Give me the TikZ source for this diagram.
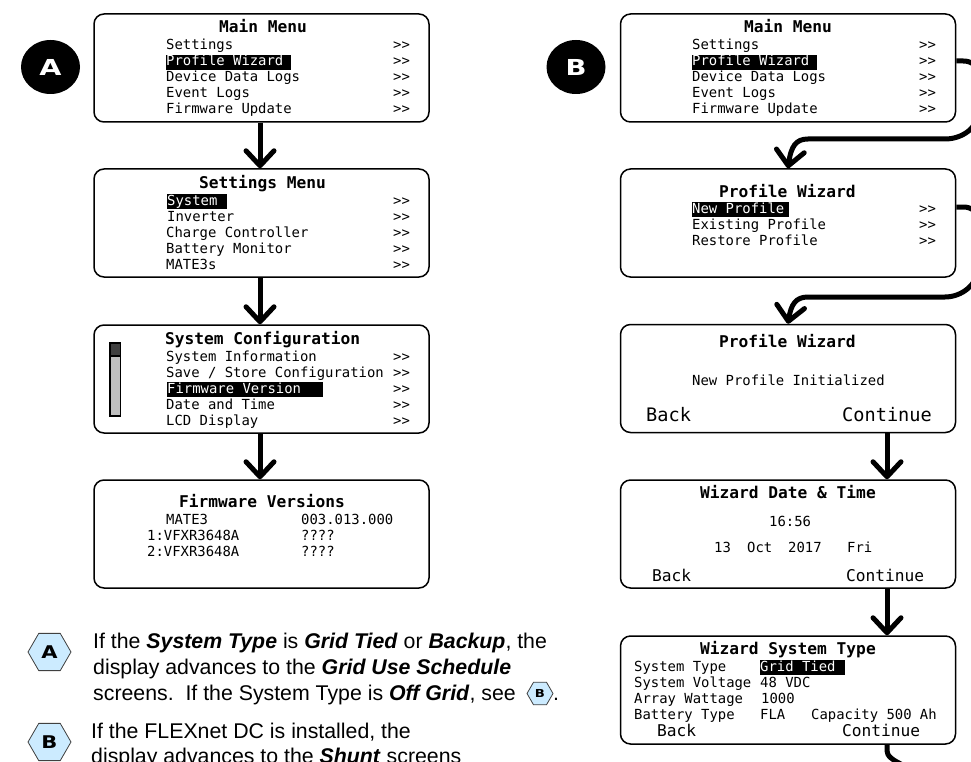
\documentclass[tikz,border=0pt]{standalone}
\usepackage{fontspec}
\usetikzlibrary{arrows.meta,shapes.geometric}
\setmainfont{Liberation Sans}
\newfontfamily\lcdfamily{DejaVu Sans Mono}
\newfontfamily\badgefamily{DejaVu Sans}[BoldFont={DejaVu Sans Bold}]
\newcommand{\lcdrow}{\lcdfamily\fontsize{13.9}{16}\selectfont}
\newcommand{\lcdtitle}{\lcdfamily\bfseries\fontsize{16.2}{18}\selectfont}
\newcommand{\lcdbutton}{\lcdfamily\fontsize{16.2}{18}\selectfont}
\newcommand{\lcdbig}{\lcdfamily\fontsize{18.6}{20}\selectfont}
\newcommand{\marked}[2]{\makebox[#1pt][l]{#2}}
\definecolor{hexblue}{HTML}{CCEBFF}
\tikzset{
  screen/.style={draw,line width=1.5pt,rounded corners=10pt,minimum width=335pt,minimum height=108pt},
  row/.style={anchor=base west,inner sep=0pt,font=\lcdrow},
  rowmark/.style={row,fill=black,text=white,text depth=4pt,text height=11pt},
  title/.style={anchor=base west,inner sep=0pt,font=\lcdtitle},
  button/.style={anchor=base west,inner sep=0pt,font=\lcdbutton},
  bigbutton/.style={anchor=base west,inner sep=0pt,font=\lcdbig},
  flow/.style={line width=5pt,-{Straight Barb[length=15pt,width=28pt,round]}},
  disc/.style={ellipse,fill=black,text=white,minimum width=59pt,minimum height=54pt,inner sep=0pt,
    font=\badgefamily\bfseries\fontsize{22}{22}\selectfont},
  hexbadge/.style={regular polygon,regular polygon sides=6,draw=black!75,line width=0.8pt,fill=hexblue,
    minimum size=43pt,inner sep=0pt,font=\badgefamily\bfseries\fontsize{17.5}{18}\selectfont},
  hexsmall/.style={hexbadge,minimum size=26pt,font=\badgefamily\bfseries\fontsize{11}{11}\selectfont},
  note/.style={anchor=base west,inner sep=0pt,font=\fontsize{21.3}{26}\selectfont},
}
\begin{document}
\begin{tikzpicture}[x=1pt,y=-1pt]
    \clip (0,0) rectangle (971,762);

    % column A
    \node[screen] (mainA) at (261.5,68) {};
    \node[screen] (settingsA) at (261.5,223) {};
    \node[screen] (configA) at (261.5,379) {};
    \node[screen] (versionA) at (261.5,534) {};
    \node[disc] (discA) at (50.5,67) {\scalebox{1.3}[1]{A}};

    \node[title] (mainAtitle) at (219,33) {Main Menu};
    \node[row] (mainA1) at (166,50) {Settings};
    \node[rowmark] (mainA2) at (166,66) {\marked{125}{Profile Wizard}};
    \node[row] (mainA3) at (166,82) {Device Data Logs};
    \node[row] (mainA4) at (166,98) {Event Logs};
    \node[row] (mainA5) at (166,114) {Firmware Update};
    \foreach \y [count=\i] in {50,66,82,98,114}
        \node[row] (mainAgo\i) at (393,\y) {>>};

    \node[title] (settingsAtitle) at (199,189) {Settings Menu};
    \node[rowmark] (settingsA1) at (167,205) {\marked{60}{System}};
    \node[row] (settingsA2) at (167,221) {Inverter};
    \node[row] (settingsA3) at (166,237) {Charge Controller};
    \node[row] (settingsA4) at (166,253) {Battery Monitor};
    \node[row] (settingsA5) at (166,269) {MATE3s};
    \foreach \y [count=\i] in {205,221,237,253,269}
        \node[row] (settingsAgo\i) at (393,\y) {>>};

    \node[title] (configAtitle) at (165,344) {System Configuration};
    \node[row] (configA1) at (166,361) {System Information};
    \node[row] (configA2) at (166,377) {Save / Store Configuration};
    \node[rowmark] (configA3) at (167,393) {\marked{156}{Firmware Version}};
    \node[row] (configA4) at (166,409) {Date and Time};
    \node[row] (configA5) at (166,425) {LCD Display};
    \foreach \y [count=\i] in {361,377,393,409,425}
        \node[row] (configAgo\i) at (393,\y) {>>};
    % scroll bar
    \draw[line width=1.2pt,fill=black!25] (110,343) rectangle (120.5,416);
    \draw[line width=1.2pt,fill=black!75] (110,343) rectangle (120.5,356);

    \node[title] (versionAtitle) at (179,507) {Firmware Versions};
    \node[row] (versionA1) at (166,524) {MATE3};
    \node[row] (versionA2) at (147,540) {1:VFXR3648A};
    \node[row] (versionA3) at (147,556) {2:VFXR3648A};
    \node[row] (versionAval1) at (301,524) {003.013.000};
    \node[row] (versionAval2) at (301,540) {????};
    \node[row] (versionAval3) at (301,556) {????};

    \draw[flow] ([xshift=-1.5pt]mainA.south) -- ([xshift=-1.5pt]settingsA.north);
    \draw[flow] ([xshift=-1.5pt]settingsA.south) -- ([xshift=-1.5pt]configA.north);
    \draw[flow] ([xshift=-1.5pt]configA.south) -- ([xshift=-1.5pt]versionA.north);

    % notes
    \node[hexbadge] (hexA) at (49.5,652) {\scalebox{1.2}[1]{A}};
    \node[hexbadge] (hexB) at (49.5,742) {\scalebox{1.2}[1]{B}};
    \node[note] (noteA1) at (93,648) {If the \textbf{\textit{System Type}} is \textbf{\textit{Grid Tied}} or \textbf{\textit{Backup}}, the};
    \node[note] (noteA2) at (93,674) {display advances to the \textbf{\textit{Grid Use Schedule}}};
    \node[note] (noteA3) at (93,700) {screens.\ \ If the System Type is \textbf{\textit{Off Grid}}, see};
    \node[hexsmall] (hexinline) at (540,693.5) {\scalebox{1.2}[1]{B}};
    \node[note] (noteA4) at (553,700) {.};
    \node[note] (noteB1) at (91,738) {If the FLEXnet DC is installed, the};
    \node[note] (noteB2) at (91,763) {display advances to the \textbf{\textit{Shunt}} screens};

    % column B
    \node[screen] (mainB) at (788,68) {};
    \node[screen] (wizardB) at (788,223) {};
    \node[screen] (initB) at (788,378.5) {};
    \node[screen] (dateB) at (788,534) {};
    \node[screen] (typeB) at (788,690) {};
    \node[disc] (discB) at (576,67) {\scalebox{1.25}[1]{B}};

    \node[title] (mainBtitle) at (744,33) {Main Menu};
    \node[row] (mainB1) at (692,50) {Settings};
    \node[rowmark] (mainB2) at (692,66) {\marked{125}{Profile Wizard}};
    \node[row] (mainB3) at (692,82) {Device Data Logs};
    \node[row] (mainB4) at (692,98) {Event Logs};
    \node[row] (mainB5) at (692,114) {Firmware Update};
    \foreach \y [count=\i] in {50,66,82,98,114}
        \node[row] (mainBgo\i) at (919,\y) {>>};

    \node[title] (wizardBtitle) at (719,197) {Profile Wizard};
    \node[rowmark] (wizardB1) at (692,213) {\marked{97}{New Profile}};
    \node[row] (wizardB2) at (692,229) {Existing Profile};
    \node[row] (wizardB3) at (692,245) {Restore Profile};
    \foreach \y [count=\i] in {213,229,245}
        \node[row] (wizardBgo\i) at (919,\y) {>>};

    \node[title] (initBtitle) at (719,347) {Profile Wizard};
    \node[row] (initBtext) at (692,385) {New Profile Initialized};
    \node[bigbutton] (initBback) at (646,421) {Back};
    \node[bigbutton] (initBgo) at (842,421) {Continue};

    \node[title] (dateBtitle) at (700,498) {Wizard Date \& Time};
    \node[row] (dateBclock) at (769,526) {16:56};
    \node[row] (dateBday) at (714,552) {13};
    \node[row] (dateBmonth) at (747,552) {Oct};
    \node[row] (dateByear) at (788,552) {2017};
    \node[row] (dateBweek) at (847,552) {Fri};
    \node[button] (dateBback) at (652,581) {Back};
    \node[button] (dateBgo) at (846,581) {Continue};

    \node[title] (typeBtitle) at (700,654) {Wizard System Type};
    \node[row] (typeB1) at (634,671) {System Type};
    \node[row] (typeB2) at (634,687) {System Voltage};
    \node[row] (typeB3) at (634,703) {Array Wattage};
    \node[row] (typeB4) at (634,719) {Battery Type};
    \node[rowmark] (typeBval1) at (760,671) {\marked{85}{Grid Tied}};
    \node[row] (typeBval2) at (760,687) {48 VDC};
    \node[row] (typeBval3) at (761,703) {1000};
    \node[row] (typeBval4) at (760,719) {FLA};
    \node[row] (typeBcap) at (811,719) {Capacity 500 Ah};
    \node[button] (typeBback) at (657,736) {Back};
    \node[button] (typeBgo) at (842,736) {Continue};

    \coordinate (typeBout) at (905,766);

    \draw[flow] ([yshift=7pt]mainB.east) -- ++(7,0) .. controls (972,61) and (978,66) .. (978,76)
        -- (978,112) .. controls (978,128) and (962,139) .. (945,139) -- (808,139)
        .. controls (796,139) and (791,146) .. (mainB.south |- wizardB.north);
    \draw[flow] ([yshift=16pt]wizardB.east) -- ++(7,0) .. controls (972,207) and (978,212) .. (978,222)
        -- (978,268) .. controls (978,284) and (962,297) .. (945,297) -- (808,297)
        .. controls (796,297) and (791,304) .. (initB.north);
    \draw[flow] ([xshift=99pt]initB.south) -- ([xshift=99pt]dateB.north);
    \draw[flow] ([xshift=99pt]dateB.south) -- ([xshift=99pt]typeB.north);
    \draw[line width=5pt] ([xshift=99pt]typeB.south) -- ++(0,6) .. controls (887,756) and (892,760) .. (typeBout);
\end{tikzpicture}
\end{document}
